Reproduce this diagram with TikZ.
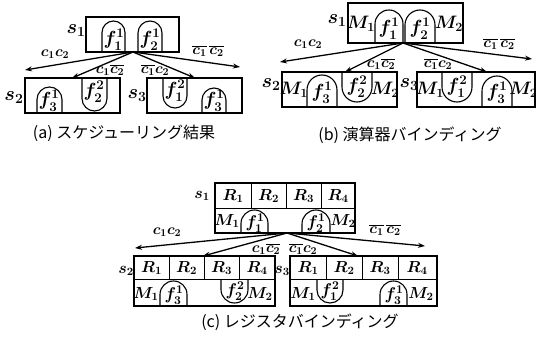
\RequirePackage{fix-cm}
\documentclass[tikz,border=0pt]{standalone}
\usepackage{fontspec}
\newfontfamily\jpfont{Noto Sans CJK JP}
\usetikzlibrary{arrows.meta}
\newcommand\archpath[4]{\pgfmathsetmacro\archr{(#2-#1)/2}\draw[archline,rounded corners=\archr pt] (#1,#3) -- (#1,#4) -- (#2,#4) -- (#2,#3);}
\tikzset{
 boxline/.style={line width=2pt},
 divline/.style={line width=1pt},
 archline/.style={line width=1.1pt},
 conn/.style={line width=1.3pt,-{Stealth[length=7pt,width=5pt]}},
 mlab/.style={inner sep=0pt,font=\fontsize{19}{21}\selectfont\boldmath},
 flab/.style={inner sep=0pt,font=\fontsize{17}{19}\selectfont\boldmath},
 blab/.style={inner sep=0pt,font=\fontsize{18}{20}\selectfont\boldmath},
 rlab/.style={inner sep=0pt,font=\fontsize{16}{18}\selectfont\boldmath},
 clab/.style={inner sep=0pt,font=\fontsize{15}{17}\selectfont\boldmath},
 slab/.style={inner sep=0pt,font=\fontsize{20}{22}\selectfont\boldmath},
 sslab/.style={inner sep=0pt,font=\fontsize{16}{18}\selectfont\boldmath},
 captxt/.style={inner sep=0pt,font=\jpfont\fontsize{16}{18}\selectfont},
}
\begin{document}
\begin{tikzpicture}[x=1pt,y=-1pt]
\useasboundingbox (0,0) rectangle (536,345);
% ---------------- (a)
\draw[boxline] (86,17) coordinate (a1nw) rectangle (179,52) coordinate (a1se);
\node[slab] (as1) at (76,31) {$s_1$};
\archpath{102}{125}{52}{21}\node[mlab] (af11) at (114,40) {$f_1^1$};
\archpath{138}{162}{52}{21}\node[mlab] (af21) at (150,40) {$f_2^1$};
\coordinate (ao) at (133,52);
\coordinate (al) at (25,70);
\coordinate (ar) at (240,67);
\coordinate (a2t) at (72,78);
\coordinate (a3t) at (195,78);
\draw[conn] (ao) -- (al);
\draw[conn] (ao) -- (ar);
\draw[conn] (ao) -- (a2t);
\draw[conn] (ao) -- (a3t);
\node[clab] (acl) at (55,54) {$c_1c_2$};
\node[clab] (acr) at (208,51) {$\overline{c_1}\,\overline{c_2}$};
\node[clab] (ac2) at (110,70) {$c_1\overline{c_2}$};
\node[clab] (ac3) at (155,70) {$\overline{c_1}c_2$};
\draw[boxline] (25,78) coordinate (a2nw) rectangle (120,113) coordinate (a2se);
\node[slab] (as2) at (14,98) {$s_2$};
\archpath{37}{62}{113}{87}\node[mlab] (af31) at (49,101) {$f_3^1$};
\archpath{82}{107}{78}{111}\node[mlab] (af22) at (94,92) {$f_2^2$};
\draw[boxline] (147,78) coordinate (a3nw) rectangle (242,113) coordinate (a3se);
\node[slab] (as3) at (137,96) {$s_3$};
\archpath{163}{187}{78}{108}\node[mlab] (af12) at (175,91) {$f_1^2$};
\archpath{202}{226}{113}{88}\node[mlab] (af31b) at (214,101) {$f_3^1$};
\node[captxt] (capa) at (124,133) {(a) スケジューリング結果};
% ---------------- (b)
\draw[boxline] (348,3) coordinate (b1nw) rectangle (463,43) coordinate (b1se);
\node[slab] (bs1) at (337,21) {$s_1$};
\node[blab] (bm1) at (361,24) {$M_1$};
\archpath{375}{403}{43}{10}\node[mlab] (bf11) at (389,29) {$f_1^1$};
\archpath{405}{435}{43}{10}\node[mlab] (bf21) at (420,29) {$f_2^1$};
\node[blab] (bm2) at (449,24) {$M_2$};
\coordinate (bo) at (403,43);
\coordinate (bl) at (280,62);
\coordinate (br) at (532,59);
\coordinate (b2t) at (345,72);
\coordinate (b3t) at (487,72);
\draw[conn] (bo) -- (bl);
\draw[conn] (bo) -- (br);
\draw[conn] (bo) -- (b2t);
\draw[conn] (bo) -- (b3t);
\node[clab] (bcl) at (308,44) {$c_1c_2$};
\node[clab] (bcr) at (499,44) {$\overline{c_1}\,\overline{c_2}$};
\node[clab] (bc2) at (381,64) {$c_1\overline{c_2}$};
\node[clab] (bc3) at (438,64) {$\overline{c_1}c_2$};
\draw[boxline] (282,72) coordinate (b2nw) rectangle (397,107) coordinate (b2se);
\node[slab] (bs2) at (271,85) {$s_2$};
\node[blab] (b2m1) at (294,90) {$M_1$};
\archpath{307}{337}{107}{75}\node[mlab] (bf31) at (322,93) {$f_3^1$};
\archpath{342}{372}{72}{102}\node[mlab] (bf22) at (357,87) {$f_2^2$};
\node[blab] (b2m2) at (385,90) {$M_2$};
\draw[boxline] (417,72) coordinate (b3nw) rectangle (535,107) coordinate (b3se);
\node[slab] (bs3) at (409,85) {$s_3$};
\node[blab] (b3m1) at (430,90) {$M_1$};
\archpath{442}{472}{72}{102}\node[mlab] (bf12) at (457,87) {$f_1^2$};
\archpath{482}{512}{107}{76}\node[mlab] (bf31b) at (497,93) {$f_3^1$};
\node[blab] (b3m2) at (523.5,90) {$M_2$};
\node[captxt] (capb) at (410,135) {(b) 演算器バインディング};
% ---------------- (c)
\draw[boxline] (215,183) coordinate (c1nw) rectangle (355,233) coordinate (c1se);
\draw[divline] (215,208) -- (355,208) (251,183) -- (251,208) (286,183) -- (286,208) (321,183) -- (321,208);
\node[sslab] (cs1) at (202,196) {$s_1$};
\node[rlab] (c1r1) at (233,196) {$R_1$};
\node[rlab] (c1r2) at (268.5,196) {$R_2$};
\node[rlab] (c1r3) at (303.5,196) {$R_3$};
\node[rlab] (c1r4) at (338,196) {$R_4$};
\node[rlab] (c1m1) at (227,221) {$M_1$};
\archpath{241}{268}{233}{210}\node[flab] (cf11) at (255,223) {$f_1^1$};
\archpath{302}{330}{233}{210}\node[flab] (cf21) at (316,223) {$f_2^1$};
\node[rlab] (c1m2) at (343,221) {$M_2$};
\coordinate (co) at (287,233);
\coordinate (cl) at (135,248);
\coordinate (cr) at (425,246);
\coordinate (c2t) at (203,256);
\coordinate (c3t) at (358,256);
\draw[conn] (co) -- (cl);
\draw[conn] (co) -- (cr);
\draw[conn] (co) -- (c2t);
\draw[conn] (co) -- (c3t);
\node[clab] (ccl) at (167,232) {$c_1c_2$};
\node[clab] (ccr) at (385,230) {$\overline{c_1}\,\overline{c_2}$};
\node[clab] (cc2) at (266,249) {$c_1\overline{c_2}$};
\node[clab] (cc3) at (303,249) {$\overline{c_1}c_2$};
\draw[boxline] (134,256) coordinate (c2nw) rectangle (275,306) coordinate (c2se);
\draw[divline] (134,279) -- (275,279) (169,256) -- (169,279) (204,256) -- (204,279) (239,256) -- (239,279);
\node[sslab] (cs2) at (126,271) {$s_2$};
\node[rlab] (c2r1) at (151.5,268) {$R_1$};
\node[rlab] (c2r2) at (186.5,268) {$R_2$};
\node[rlab] (c2r3) at (221.5,268) {$R_3$};
\node[rlab] (c2r4) at (257,268) {$R_4$};
\node[rlab] (c2m1) at (146,294) {$M_1$};
\archpath{160}{187}{306}{281}\node[flab] (cf31) at (174,295) {$f_3^1$};
\archpath{221}{248}{279}{303}\node[flab] (cf22) at (235,291) {$f_2^2$};
\node[rlab] (c2m2) at (260,294) {$M_2$};
\draw[boxline] (290,256) coordinate (c3nw) rectangle (437,306) coordinate (c3se);
\draw[divline] (290,279) -- (437,279) (326,256) -- (326,279) (362,256) -- (362,279) (398,256) -- (398,279);
\node[sslab] (cs3) at (282,271) {$s_3$};
\node[rlab] (c3r1) at (308,268) {$R_1$};
\node[rlab] (c3r2) at (344,268) {$R_2$};
\node[rlab] (c3r3) at (380,268) {$R_3$};
\node[rlab] (c3r4) at (417,268) {$R_4$};
\node[rlab] (c3m1) at (303,294) {$M_1$};
\archpath{317}{343}{279}{303}\node[flab] (cf12) at (330,291) {$f_1^2$};
\archpath{380}{407}{306}{281}\node[flab] (cf31b) at (394,295) {$f_3^1$};
\node[rlab] (c3m2) at (421,294) {$M_2$};
\node[captxt] (capc) at (300,322) {(c) レジスタバインディング};
\end{tikzpicture}
\end{document}
